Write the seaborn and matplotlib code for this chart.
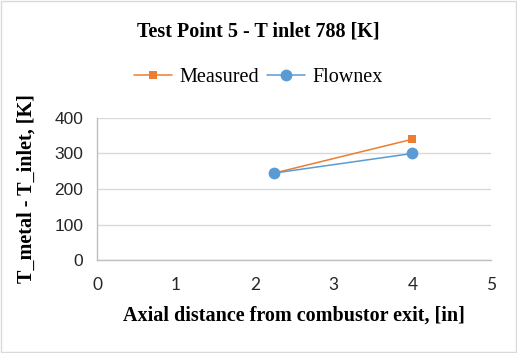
import matplotlib
matplotlib.use("Agg")
import matplotlib.pyplot as plt
import seaborn as sns
import pandas as pd

x_pos = [2.25, 4.0]
measured = [245, 340]
flownex = [245, 300]
series_names = ["Measured", "Flownex"]
x_ticks = [0, 1, 2, 3, 4, 5]
y_ticks = [0, 100, 200, 300, 400]

df = pd.concat([
    pd.DataFrame({"x": x_pos, "y": measured, "series": series_names[0]}),
    pd.DataFrame({"x": x_pos, "y": flownex, "series": series_names[1]}),
])

sns.set_style("white")
fig = plt.figure(figsize=(5.17, 3.53), dpi=100)
ax = fig.add_axes([0.188, 0.263, 0.762, 0.403])

palette = {"Measured": "#ED7D31", "Flownex": "#5B9BD5"}
markers = {"Measured": "s", "Flownex": "o"}
sizes_ms = {"Measured": 6, "Flownex": 8.5}
for name in series_names:
    sub = df[df.series == name]
    sns.lineplot(data=sub, x="x", y="y", ax=ax, color=palette[name], marker=markers[name],
                 markersize=sizes_ms[name], markeredgewidth=0, linewidth=1.1, label=name)

ax.set_xlim(0, 5)
ax.set_ylim(0, 400)
ax.set_xticks(x_ticks)
ax.set_yticks(y_ticks)
ax.set_xticklabels([str(t) for t in x_ticks], fontfamily="Lato", fontsize=12.5)
ax.set_yticklabels([str(t) for t in y_ticks], fontfamily="Liberation Sans", fontsize=12.5)
ax.tick_params(axis="x", length=0, pad=12)
ax.tick_params(axis="y", length=0, pad=10)
ax.grid(axis="y", color="#D9D9D9", linewidth=1)
ax.set_axisbelow(True)
for s in ["top", "right"]:
    ax.spines[s].set_visible(False)
for s in ["left", "bottom"]:
    ax.spines[s].set_color("#BFBFBF")
    ax.spines[s].set_linewidth(1)

ax.set_xlabel("Axial distance from combustor exit, [in]", fontfamily="Liberation Serif",
              fontweight="bold", fontsize=14.5, labelpad=9, color="black")
ax.set_ylabel("T_metal - T_inlet, [K]", fontfamily="Liberation Serif",
              fontweight="bold", fontsize=14.5, labelpad=13, color="black")

fig.text(0.5, 0.912, "Test Point 5 - T inlet 788 [K]", ha="center", va="center",
         fontfamily="Liberation Serif", fontweight="bold", fontsize=14.5, color="black")

leg = ax.legend(loc="center", bbox_to_anchor=(0.5, 0.78), bbox_transform=fig.transFigure,
                ncol=2, frameon=False, prop={"family": "Liberation Serif", "size": 14.5},
                handlelength=1.9, columnspacing=0.4, handletextpad=0.35)
for t in leg.get_texts():
    t.set_color("black")

fig.patches.append(plt.Rectangle((0.002, 0.002), 0.996, 0.994, transform=fig.transFigure,
                                 fill=False, edgecolor="#D9D9D9", linewidth=1))
fig.savefig("out.png", dpi=100)
